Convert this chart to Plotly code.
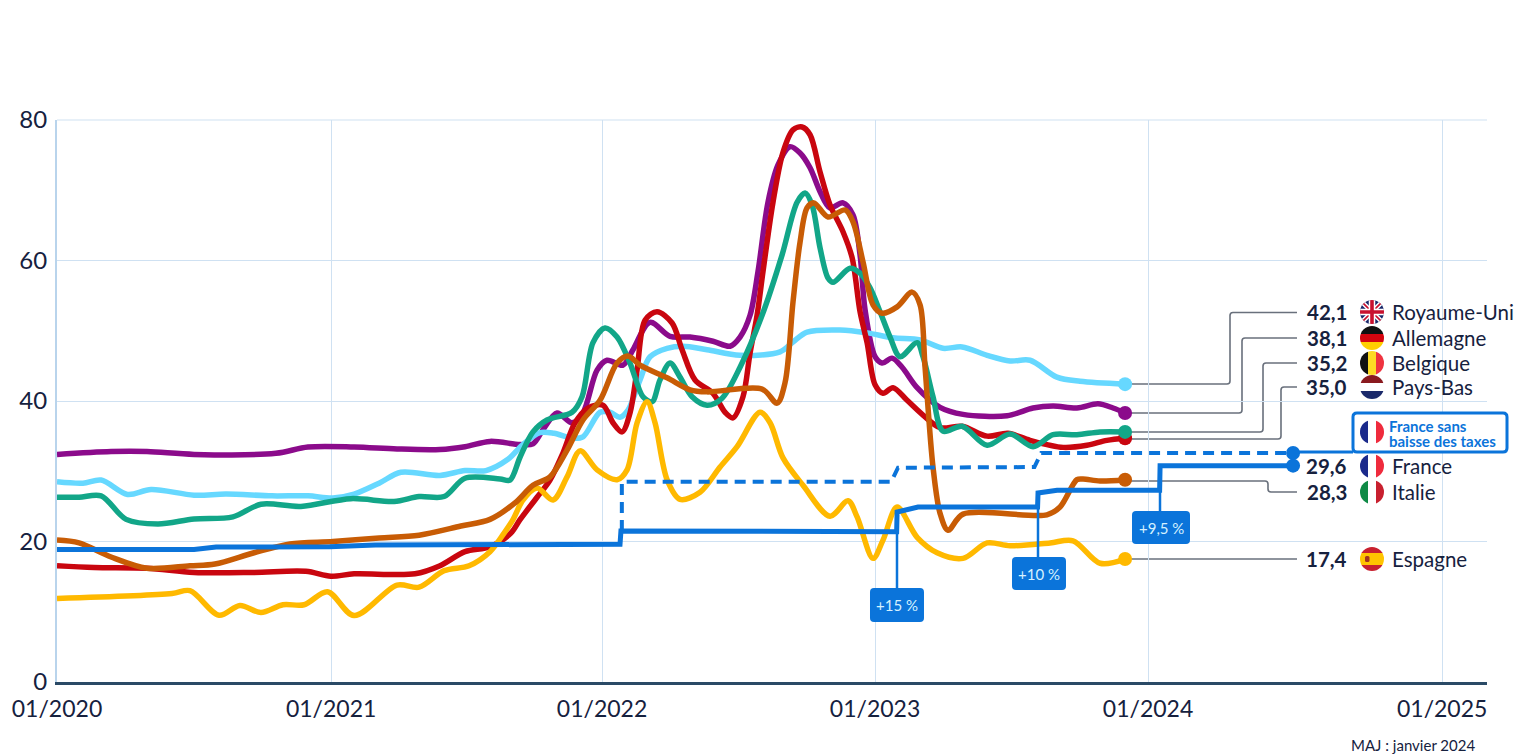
import base64
import math
import plotly.graph_objects as go

# x values are months elapsed since 01/2020
tick_months = [0, 12.06, 23.98, 35.99, 48.0, 60.94]
tick_labels = ["01/2020", "01/2021", "01/2022", "01/2023", "01/2024", "01/2025"]
y_ticks = [0, 20, 40, 60, 80]

uk_x = [0,2.38,3.96,6.03,9.63,11.04,13.07,14.96,16.85,17.95,19.05,20.37,20.94,21.38,22.0,22.66,23.14,23.76,24.2,24.9,25.34,26.09,26.97,27.85,28.86,29.61,30.05,30.49,30.84,31.28,31.72,32.25,32.69,33.13,33.57,34.0,34.58,35.02,35.33,35.55,35.99,36.3,36.74,37.18,37.84,38.85,39.86,41.8,42.94,43.82,44.87,45.8,46.46,46.99]
uk_y = [32.4,32.8,32.8,32.4,32.55,33.45,33.45,33.17,33.1,33.5,34.25,33.8,33.9,35.9,38.3,36.9,38.3,44.4,45.8,45.1,47.3,51.2,49.2,49.1,48.5,47.8,49.1,52.2,58.4,68.3,73.6,76.2,75.3,73.2,69.8,67.5,68.2,66.5,60.8,53.0,46.3,45.4,46.1,44.8,41.9,39.1,38.1,37.9,39.0,39.3,39.0,39.6,39.0,38.3]

nl_x = [0,1.14,1.94,3.10,4.14,6.03,7.44,9.46,11.04,12.14,13.07,14.17,15.13,16.85,17.95,18.87,19.84,20.46,21.25,21.87,22.66,23.14,23.89,24.33,24.77,25.12,25.65,26.09,26.84,27.54,28.6,30.05,31.81,32.38,33.0,34.45,35.64,36.78,37.97,38.98,39.82,40.92,41.93,42.81,43.99,45.01,46.99]
nl_y = [28.5,28.3,28.75,26.7,27.4,26.6,26.75,26.5,26.5,26.2,26.75,28.3,29.85,29.4,30.1,30.1,31.7,33.7,35.5,35.4,34.7,34.9,38.4,38.4,37.7,38.7,43.0,46.3,47.5,47.8,47.3,46.5,47.0,48.4,49.8,50.1,49.7,49.0,48.7,47.5,47.7,46.5,45.7,45.8,43.4,42.8,42.4]

be_x = [0,0.97,1.94,3.04,4.44,6.03,7.74,8.97,10.73,12.93,14.83,15.93,17.03,17.95,19.49,19.93,20.37,20.94,21.56,22.66,23.1,23.58,24.11,24.64,25.21,25.78,26.18,26.53,26.97,27.41,27.94,28.6,29.26,30.05,31.02,31.9,32.56,32.91,33.22,33.57,33.92,34.14,34.89,35.33,35.77,36.21,36.65,37.09,37.84,38.1,38.54,38.98,39.82,40.92,41.93,42.94,43.82,44.87,45.89,46.99]
be_y = [26.3,26.3,26.5,23.15,22.5,23.2,23.5,25.3,25.0,26.1,25.7,26.4,26.4,29.0,28.9,28.75,32.0,35.6,37.3,38.4,40.6,48.3,50.4,49.1,45.4,40.6,39.9,43.0,45.4,43.4,40.6,39.4,40.4,44.8,52.2,60.8,68.3,69.6,67.9,61.8,57.5,56.9,58.9,58.2,56.1,52.7,49.1,46.3,48.3,46.3,40.6,35.7,36.4,33.7,35.3,33.5,35.2,35.2,35.6,35.6]

de_x = [0,1.63,3.96,6.03,8.67,10.95,12.05,13.07,15.75,16.85,17.95,19.05,19.97,20.37,21.12,21.69,22.26,22.79,23.36,24.02,24.46,24.86,25.21,25.52,25.87,26.4,27.06,27.5,28.07,28.86,29.39,29.74,30.18,30.49,30.8,31.06,31.5,31.94,32.38,32.78,33.13,33.57,34.01,34.58,34.98,35.33,35.64,35.99,36.34,36.78,37.4,38.1,38.85,39.82,40.92,41.84,42.81,44.26,45.31,46.19,46.99]
de_y = [16.55,16.3,16.2,15.6,15.6,15.75,15.05,15.4,15.4,16.55,18.55,19.25,21.2,23.1,26.3,28.75,32.6,36.9,39.0,39.4,36.9,35.6,38.3,44.4,51.5,52.7,51.1,47.3,43.0,41.1,38.4,37.6,40.6,46.8,52.2,58.4,68.3,75.4,78.6,79.0,77.9,72.6,67.9,64.1,60.4,52.7,48.3,42.3,41.1,41.9,40.1,38.0,36.2,36.4,35.0,35.4,34.4,33.4,33.7,34.4,34.7]

it_x = [0,0.97,2.38,3.96,5.85,6.95,8.67,10.25,12.14,14.17,15.93,17.77,19.05,20.15,20.94,21.69,22.44,23.14,23.89,24.64,25.12,25.65,26.84,27.85,28.6,31.02,31.68,32.03,32.38,32.69,33.0,33.3,33.92,34.67,35.02,35.46,35.9,36.3,36.96,37.62,37.97,38.19,38.54,38.85,39.2,39.86,43.55,44.13,44.87,45.14,45.89,46.99]
it_y = [20.2,19.8,17.8,16.2,16.55,16.8,18.4,19.65,20.0,20.5,20.9,22.2,23.15,25.5,28.0,29.2,33.0,37.3,40.1,45.4,46.4,45.1,43.3,41.6,41.3,41.7,39.7,42.6,54.1,62.6,67.5,68.2,66.2,67.2,65.5,59.8,53.7,52.5,53.4,55.5,53.7,44.8,30.6,24.0,21.6,23.9,23.8,24.9,28.8,28.9,28.6,28.8]

es_x = [0,5.06,5.85,7.13,8.05,8.97,9.94,10.87,11.9,13.07,14.96,15.93,17.03,18.13,19.05,19.67,20.06,20.5,21.12,21.82,22.44,23.01,23.76,24.64,25.08,25.52,25.96,26.31,26.84,27.41,28.29,29.17,29.92,30.93,31.37,31.94,32.82,34.01,34.8,35.2,35.9,36.34,36.96,37.84,38.72,39.86,40.92,41.93,43.69,44.7,45.89,46.99]
es_y = [11.9,12.6,13.0,9.5,10.9,9.9,11.0,11.0,12.85,9.45,13.8,13.5,15.85,16.55,18.55,21.2,23.1,25.9,27.6,25.9,29.2,32.9,30.2,28.8,30.2,36.9,39.9,36.9,28.8,26.0,27.0,30.6,33.5,38.4,36.9,31.9,28.0,23.6,25.8,23.5,17.6,20.2,24.9,20.6,18.4,17.6,19.8,19.4,19.8,20.1,16.9,17.5]

fr_x = [0,6.03,7.0,12.0,14.0,24.77,24.81,36.94,36.96,37.88,43.14,43.16,44.0,48.51,48.53,54.38]
fr_y = [18.85,18.85,19.2,19.25,19.5,19.6,21.5,21.4,24.2,24.9,24.9,26.9,27.3,27.3,30.8,30.8]

fr_notax_x = [24.85,24.85,36.7,37.0,43.0,43.3,54.38]
fr_notax_y = [21.5,28.5,28.5,30.5,30.6,32.6,32.6]

series = [
    (uk_x, uk_y, "Royaume-Uni", "#8B0B8B"),
    (nl_x, nl_y, "Pays-Bas (bleu clair)", "#66D8FF"),
    (de_x, de_y, "Allemagne", "#C9060F"),
    (be_x, be_y, "Belgique", "#12A688"),
    (es_x, es_y, "Espagne", "#FFB900"),
    (it_x, it_y, "Italie", "#C85C05"),
]

end_labels = [
    ("42,1", "Royaume-Uni", "uk", 312),
    ("38,1", "Allemagne", "de", 338),
    ("35,2", "Belgique", "be", 363),
    ("35,0", "Pays-Bas", "nl", 387),
    ("29,6", "France", "fr", 466),
    ("28,3", "Italie", "it", 492),
    ("17,4", "Espagne", "es", 559),
]
hikes = [("+15 %", 870, 924, 588, 622, 897, 512),
         ("+10 %", 1012, 1066, 557, 590, 1038, 495),
         ("+9,5 %", 1132, 1190, 511, 544, 1160, 490)]

# ---- layout helpers (decoration placed in figure pixels) ----
L, R, T, B = 57, 1487, 120, 682
X = lambda px: (px - L) / (R - L)
Y = lambda py: (B - py) / (B - T)
P = lambda px, py: f"{X(px):.5f},{Y(py):.5f}"
INK = "#16213E"
BLUE = "#0B74DA"
GREY = "#69707C"
GRID = "#CFE1F2"
FONT = "Lato"


def rounded(x0, x1, y0, y1, r):
    return (f"M{P(x0+r,y0)} L{P(x1-r,y0)} Q{P(x1,y0)} {P(x1,y0+r)} L{P(x1,y1-r)} Q{P(x1,y1)} {P(x1-r,y1)} "
            f"L{P(x0+r,y1)} Q{P(x0,y1)} {P(x0,y1-r)} L{P(x0,y0+r)} Q{P(x0,y0)} {P(x0+r,y0)} Z")


def elbow(x0, y0, xc, y1, x1, r=3):
    s = 1 if y1 > y0 else -1
    return (f"M{P(x0,y0)} L{P(xc-r,y0)} Q{P(xc,y0)} {P(xc,y0+s*r)} L{P(xc,y1-s*r)} "
            f"Q{P(xc,y1)} {P(xc+r,y1)} L{P(x1,y1)}")


def side_segment(cx, cy, r, inset, side):
    """Part of a disc lying outside a vertical chord (used for the flag inside the white box)."""
    a = math.acos(inset / r)
    n = 24
    pts = []
    for i in range(n + 1):
        t = -a + 2 * a * i / n
        pts.append((cx + side * r * math.cos(t), cy + r * math.sin(t)))
    return "M" + " L".join(P(*p) for p in pts) + " Z"


def hbands(*cols):
    n = len(cols)
    return "".join(f'<rect x="0" y="{i*24/n}" width="24" height="{24/n}" fill="{c}"/>' for i, c in enumerate(cols))


def vbands(*cols):
    n = len(cols)
    return "".join(f'<rect y="0" x="{i*24/n}" height="24" width="{24/n}" fill="{c}"/>' for i, c in enumerate(cols))


flags = {
    "uk": '<rect width="24" height="24" fill="#1B2A6B"/><path d="M0 0L24 24M24 0L0 24" stroke="#fff" stroke-width="4.5"/>'
          '<path d="M0 0L24 24M24 0L0 24" stroke="#C8102E" stroke-width="1.6"/>'
          '<path d="M12 0V24M0 12H24" stroke="#fff" stroke-width="6.5"/><path d="M12 0V24M0 12H24" stroke="#C8102E" stroke-width="3.6"/>',
    "de": hbands("#111111", "#D5050F", "#FFCE00"),
    "be": vbands("#111111", "#FDDA24", "#EF3340"),
    "nl": hbands("#8A1A1F", "#FFFFFF", "#1B2A6B"),
    "fr": vbands("#1B2A8B", "#FFFFFF", "#EF2B3D"),
    "it": vbands("#0F8A46", "#FFFFFF", "#C8202F"),
    "es": hbands("#C8202F", "#FFC400", "#FFC400", "#C8202F") +
          '<rect x="5" y="9" width="4.5" height="6" rx="1.5" fill="#A5341E"/>',
}


def flag_image(code, cy, cx=1372, r=12):
    svg = (f'<svg xmlns="http://www.w3.org/2000/svg" width="96" height="96" viewBox="0 0 24 24">'
           f'<defs><clipPath id="c"><circle cx="12" cy="12" r="12"/></clipPath></defs>'
           f'<g clip-path="url(#c)">{flags[code]}</g></svg>')
    uri = "data:image/svg+xml;base64," + base64.b64encode(svg.encode()).decode()
    return dict(source=uri, xref="paper", yref="paper", x=X(cx - r), y=Y(cy - r), sizex=2 * r / (R - L),
                sizey=2 * r / (B - T), xanchor="left", yanchor="top", sizing="stretch", layer="above")


def label(text, px, py, size, color, xanchor="center", align="center"):
    return dict(text=text, xref="paper", yref="paper", x=X(px), y=Y(py), xanchor=xanchor, yanchor="middle",
                align=align, showarrow=False, borderpad=0, font=dict(family=FONT, size=size, color=color))


# ---- figure ----
fig = go.Figure()

for xs, ys, name, col in series:
    fig.add_trace(go.Scatter(x=xs, y=ys, name=name, mode="lines", cliponaxis=False,
                             line=dict(color=col, width=5.5, shape="spline", smoothing=0.9)))

fig.add_trace(go.Scatter(x=fr_notax_x, y=fr_notax_y, name="France sans baisse des taxes", mode="lines",
                         cliponaxis=False, line=dict(color=BLUE, width=4, dash="11px,7px")))
fig.add_trace(go.Scatter(x=fr_x, y=fr_y, name="France", mode="lines", cliponaxis=False,
                         line=dict(color=BLUE, width=5)))

for xs, ys, name, col in series:
    fig.add_trace(go.Scatter(x=xs[-1:], y=ys[-1:], mode="markers", showlegend=False, cliponaxis=False,
                             marker=dict(color=col, size=14)))
fig.add_trace(go.Scatter(x=[fr_x[-1], fr_notax_x[-1]], y=[fr_y[-1], fr_notax_y[-1]], mode="markers",
                         cliponaxis=False, marker=dict(color=BLUE, size=14)))

shapes = [dict(type="line", xref="paper", yref="paper", x0=0, x1=1, y0=1, y1=1, layer="below",
               line=dict(color=GRID, width=1.2))]
leaders = [elbow(1125, 384, 1230, 312.5, 1297), elbow(1125, 413, 1242, 338, 1297),
           elbow(1125, 432, 1263, 363, 1297), elbow(1125, 439, 1281, 387, 1297),
           elbow(1125, 481, 1268, 492, 1297), f"M{P(1125,559)} L{P(1297,559)}"]
for d in leaders:
    shapes.append(dict(type="path", xref="paper", yref="paper", path=d, layer="below",
                       line=dict(color=GREY, width=1.6)))

shapes.append(dict(type="path", xref="paper", yref="paper", path=rounded(1353, 1507, 413, 452, 4),
                   fillcolor="white", line=dict(color=BLUE, width=3)))
shapes.append(dict(type="line", xref="paper", yref="paper", x0=X(1293), x1=X(1353), y0=Y(452), y1=Y(452),
                   line=dict(color=BLUE, width=3)))
# French flag inside the box: drawn as shapes so it sits over the box's white fill
for side, col in ((-1, "#1B2A8B"), (1, "#EF2B3D")):
    shapes.append(dict(type="path", xref="paper", yref="paper", path=side_segment(1372, 432, 12, 4, side),
                       fillcolor=col, line=dict(color=col, width=0)))

annotations = []
for text, x0, x1, y0, y1, stem_x, stem_top in hikes:
    shapes.append(dict(type="line", xref="paper", yref="paper", x0=X(stem_x), x1=X(stem_x), y0=Y(stem_top),
                       y1=Y(y0), line=dict(color=BLUE, width=2.5)))
    shapes.append(dict(type="path", xref="paper", yref="paper", path=rounded(x0, x1, y0, y1, 4),
                       fillcolor=BLUE, line=dict(color=BLUE, width=0)))
    annotations.append(label(text, (x0 + x1) / 2, (y0 + y1) / 2, 15, "#D5F1FF"))

images = []
for val, name, code, cy in end_labels:
    images.append(flag_image(code, cy))
    annotations.append(label(f"<b>{val}</b>", 1348, cy, 20.5, INK, xanchor="right"))
    annotations.append(label(name, 1391, cy, 20.5, INK, xanchor="left"))

annotations.append(label("<b>France sans</b>", 1388, 426, 15, BLUE, xanchor="left"))
annotations.append(label("<b>baisse des taxes</b>", 1388, 441, 15, BLUE, xanchor="left"))
annotations.append(label("MAJ : janvier 2024", 1476, 745, 15, INK, xanchor="right"))

fig.update_layout(
    width=1517, height=755, autosize=False, showlegend=False,
    margin=dict(l=L, r=1517 - R, t=T, b=755 - B, pad=0),
    plot_bgcolor="rgba(0,0,0,0)", paper_bgcolor="white",
    font=dict(family=FONT, color=INK, size=23),
    shapes=shapes, annotations=annotations, images=images,
    xaxis=dict(range=[0, (R - L) / 22.73], tickmode="array", tickvals=tick_months, ticktext=tick_labels,
               showgrid=True, gridcolor=GRID, gridwidth=1.2, zeroline=False,
               showline=True, linecolor="#2A4A66", linewidth=2.5, ticks="outside", ticklen=5,
               tickcolor="rgba(0,0,0,0)", tickfont=dict(family=FONT, size=23, color=INK)),
    yaxis=dict(range=[0, 80], tickmode="array", tickvals=y_ticks, showgrid=True, gridcolor=GRID, gridwidth=1.2,
               zeroline=False, showline=True, linecolor="#B9D4EC", linewidth=2, ticks="outside", ticklen=3,
               tickcolor="rgba(0,0,0,0)", tickfont=dict(family=FONT, size=24, color=INK)),
)

# the page's default body margin would push the figure 8 px down and right
fig.write_html("out.html", config={"displayModeBar": False},
               post_script="document.body.style.margin='0';document.body.style.overflow='hidden';")
